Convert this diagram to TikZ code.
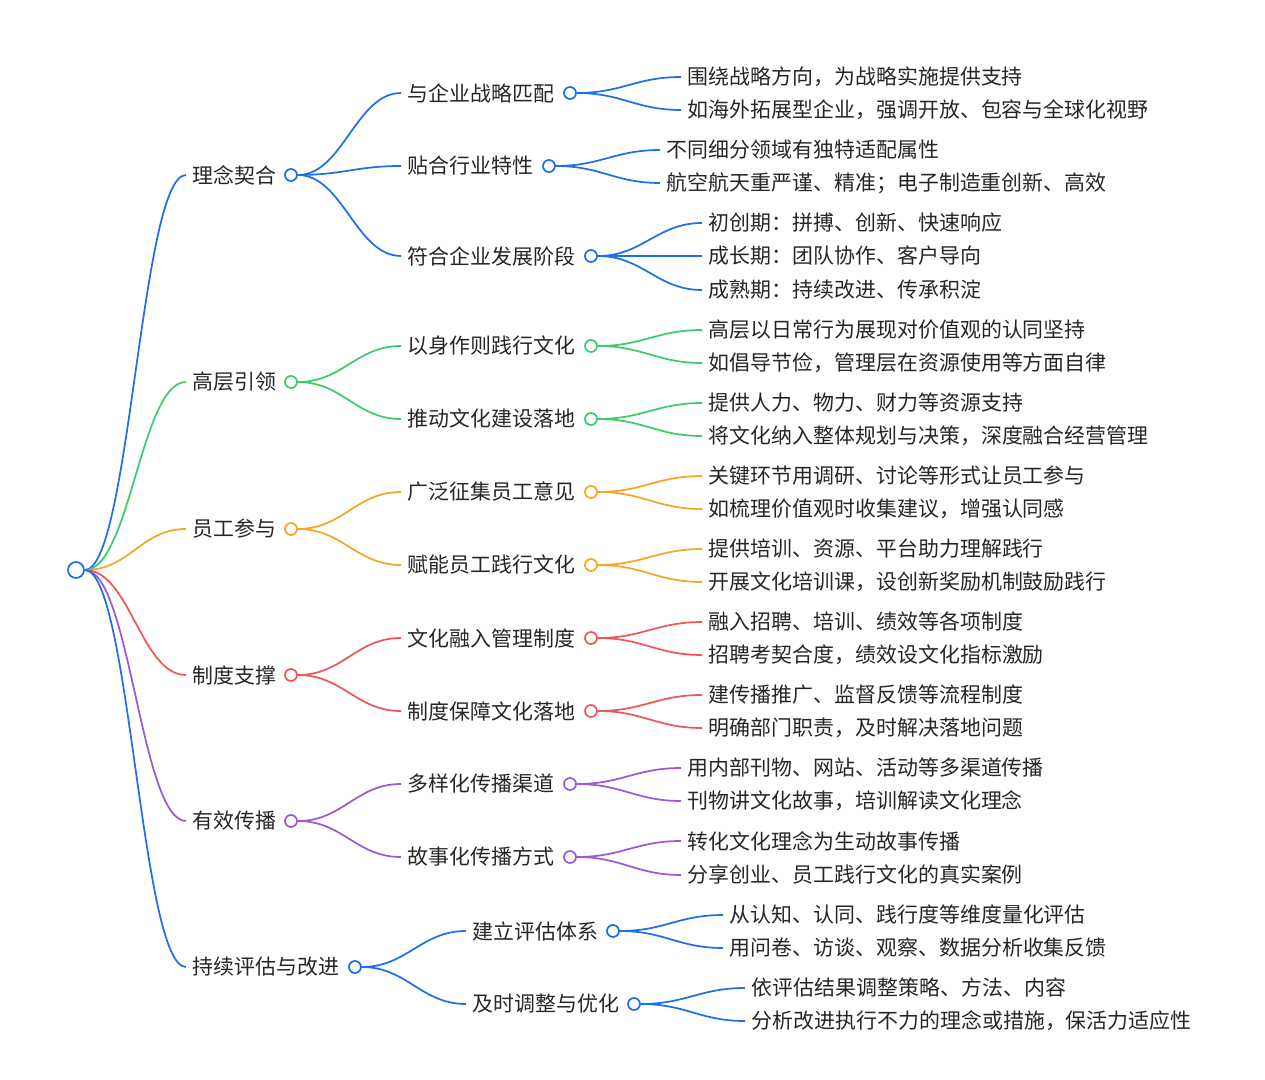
\documentclass[tikz,border=0pt]{standalone}
\usepackage{fontspec}
\setmainfont{Noto Sans CJK SC}
\definecolor{cb}{HTML}{1F6FEB}
\definecolor{cg}{HTML}{3DCB6C}
\definecolor{co}{HTML}{F5A623}
\definecolor{cr}{HTML}{EC5858}
\definecolor{cp}{HTML}{9B59D9}
\tikzset{
 lbl/.style={anchor=west,inner xsep=5pt,inner ysep=2pt,font=\fontsize{15.7pt}{17pt}\selectfont,text=black!85},
 dot/.style={circle,draw=#1,fill=white,line width=1.3pt,minimum size=9pt,inner sep=0pt},
 edge/.style={draw=#1,line width=1.3pt}
}
\newcommand{\mk}[6]{\node[lbl] (#1) at (#3,#4) {#6}; \node[dot=#2] (#1c) at (#5,#4) {};}
\newcommand{\lf}[4]{\node[lbl] (#1) at (#2,#3) {#4};}
\newcommand{\cn}[3]{\draw[edge=#3] (#1.east) .. controls +(45,0) and +(-45,0) .. (#2.west);}
\begin{document}
\begin{tikzpicture}[x=0.75pt,y=-0.75pt]
\useasboundingbox (0,0) rectangle (1265,1080);
\node[dot=cb,minimum size=12pt] (root) at (76,570) {};
% level 1
\mk{a}{cb}{186}{175}{291}{理念契合}
\mk{b}{cg}{186}{382}{291}{高层引领}
\mk{c}{co}{186}{529}{291}{员工参与}
\mk{d}{cr}{186}{675}{291}{制度支撑}
\mk{e}{cp}{186}{821}{291}{有效传播}
\mk{f}{cb}{186}{967}{355}{持续评估与改进}
\cn{root}{a}{cb}\cn{root}{b}{cg}\cn{root}{c}{co}\cn{root}{d}{cr}\cn{root}{e}{cp}\cn{root}{f}{cb}
% level 2
\mk{a1}{cb}{401}{93}{570}{与企业战略匹配}
\mk{a2}{cb}{401}{166}{549}{贴合行业特性}
\mk{a3}{cb}{401}{256}{591}{符合企业发展阶段}
\mk{b1}{cg}{401}{346}{591}{以身作则践行文化}
\mk{b2}{cg}{401}{419}{591}{推动文化建设落地}
\mk{c1}{co}{401}{492}{591}{广泛征集员工意见}
\mk{c2}{co}{401}{565}{591}{赋能员工践行文化}
\mk{d1}{cr}{401}{638}{591}{文化融入管理制度}
\mk{d2}{cr}{401}{711}{591}{制度保障文化落地}
\mk{e1}{cp}{401}{784}{570}{多样化传播渠道}
\mk{e2}{cp}{401}{857}{570}{故事化传播方式}
\mk{f1}{cb}{466}{931}{613}{建立评估体系}
\mk{f2}{cb}{466}{1004}{634}{及时调整与优化}
\cn{ac}{a1}{cb}\cn{ac}{a2}{cb}\cn{ac}{a3}{cb}
\cn{bc}{b1}{cg}\cn{bc}{b2}{cg}
\cn{cc}{c1}{co}\cn{cc}{c2}{co}
\cn{dc}{d1}{cr}\cn{dc}{d2}{cr}
\cn{ec}{e1}{cp}\cn{ec}{e2}{cp}
\cn{fc}{f1}{cb}\cn{fc}{f2}{cb}
% leaves
\lf{a11}{681}{77}{围绕战略方向，为战略实施提供支持}
\lf{a12}{681}{110}{如海外拓展型企业，强调开放、包容与全球化视野}
\lf{a21}{660}{150}{不同细分领域有独特适配属性}
\lf{a22}{660}{183}{航空航天重严谨、精准；电子制造重创新、高效}
\lf{a31}{702}{223}{初创期：拼搏、创新、快速响应}
\lf{a32}{702}{256}{成长期：团队协作、客户导向}
\lf{a33}{702}{290}{成熟期：持续改进、传承积淀}
\lf{b11}{702}{330}{高层以日常行为展现对价值观的认同坚持}
\lf{b12}{702}{363}{如倡导节俭，管理层在资源使用等方面自律}
\lf{b21}{702}{403}{提供人力、物力、财力等资源支持}
\lf{b22}{702}{436}{将文化纳入整体规划与决策，深度融合经营管理}
\lf{c11}{702}{476}{关键环节用调研、讨论等形式让员工参与}
\lf{c12}{702}{509}{如梳理价值观时收集建议，增强认同感}
\lf{c21}{702}{549}{提供培训、资源、平台助力理解践行}
\lf{c22}{702}{582}{开展文化培训课，设创新奖励机制鼓励践行}
\lf{d11}{702}{622}{融入招聘、培训、绩效等各项制度}
\lf{d12}{702}{655}{招聘考契合度，绩效设文化指标激励}
\lf{d21}{702}{695}{建传播推广、监督反馈等流程制度}
\lf{d22}{702}{728}{明确部门职责，及时解决落地问题}
\lf{e11}{681}{768}{用内部刊物、网站、活动等多渠道传播}
\lf{e12}{681}{801}{刊物讲文化故事，培训解读文化理念}
\lf{e21}{681}{841}{转化文化理念为生动故事传播}
\lf{e22}{681}{875}{分享创业、员工践行文化的真实案例}
\lf{f11}{723}{915}{从认知、认同、践行度等维度量化评估}
\lf{f12}{723}{948}{用问卷、访谈、观察、数据分析收集反馈}
\lf{f21}{745}{988}{依评估结果调整策略、方法、内容}
\lf{f22}{745}{1021}{分析改进执行不力的理念或措施，保活力适应性}
\cn{a1c}{a11}{cb}\cn{a1c}{a12}{cb}
\cn{a2c}{a21}{cb}\cn{a2c}{a22}{cb}
\cn{a3c}{a31}{cb}\cn{a3c}{a32}{cb}\cn{a3c}{a33}{cb}
\cn{b1c}{b11}{cg}\cn{b1c}{b12}{cg}
\cn{b2c}{b21}{cg}\cn{b2c}{b22}{cg}
\cn{c1c}{c11}{co}\cn{c1c}{c12}{co}
\cn{c2c}{c21}{co}\cn{c2c}{c22}{co}
\cn{d1c}{d11}{cr}\cn{d1c}{d12}{cr}
\cn{d2c}{d21}{cr}\cn{d2c}{d22}{cr}
\cn{e1c}{e11}{cp}\cn{e1c}{e12}{cp}
\cn{e2c}{e21}{cp}\cn{e2c}{e22}{cp}
\cn{f1c}{f11}{cb}\cn{f1c}{f12}{cb}
\cn{f2c}{f21}{cb}\cn{f2c}{f22}{cb}
\end{tikzpicture}
\end{document}
